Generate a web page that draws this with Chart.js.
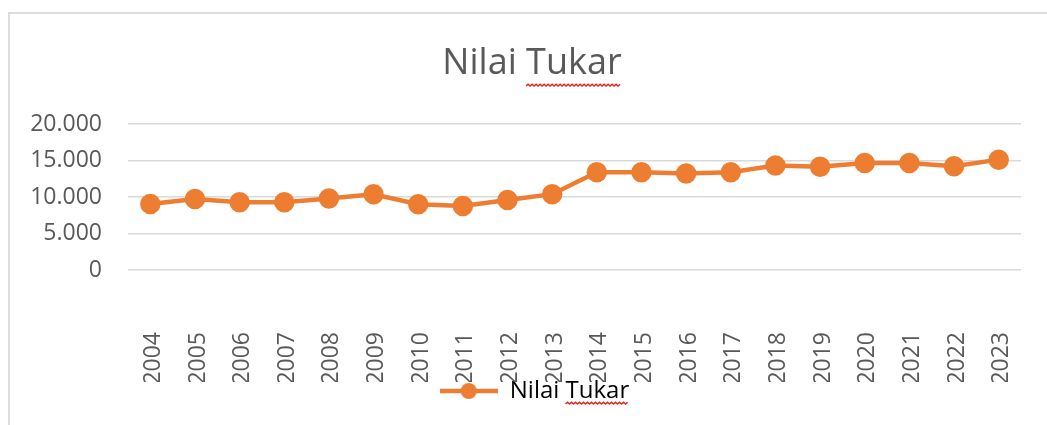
<!DOCTYPE html>
<html>
<head>
<meta charset="utf-8">
<script src="https://cdn.jsdelivr.net/npm/chart.js@4"></script>
<style>
  html, body { margin: 0; padding: 0; background: #fff; }
  #wrap { width: 1047px; height: 425px; }
</style>
</head>
<body>
<div id="wrap"><canvas id="chart" width="1047" height="425"></canvas></div>
<script>
// Data
const years = ["2004", "2005", "2006", "2007", "2008", "2009", "2010", "2011", "2012", "2013",
               "2014", "2015", "2016", "2017", "2018", "2019", "2020", "2021", "2022", "2023"];
const nilaiTukar = [9050, 9730, 9280, 9280, 9820, 10400, 9010, 8780, 9590, 10400,
                    13420, 13420, 13240, 13420, 14320, 14180, 14690, 14690, 14230, 15140];
const seriesName = "Nilai Tukar";
const chartTitle = "Nilai Tukar";

const orange = "#ED7D31";
const textGray = "#595959";
const gridGray = "#d9d9d9";
const fontFamily = "'Open Sans', sans-serif";
const titleSize = 36;
const legendSize = 24;

// Legend marker: line with a dot, like the spreadsheet legend
function legendMarker() {
    const c = document.createElement("canvas");
    c.width = 58;
    c.height = 20;
    const g = c.getContext("2d");
    g.strokeStyle = orange;
    g.lineWidth = 4.5;
    g.beginPath();
    g.moveTo(0, 10);
    g.lineTo(58, 10);
    g.stroke();
    g.fillStyle = orange;
    g.beginPath();
    g.arc(29, 10, 8, 0, Math.PI * 2);
    g.fill();
    return c;
}
const marker = legendMarker();

function thousands(v) {
    return String(v).replace(/\B(?=(\d{3})+(?!\d))/g, ".");
}

function wavy(ctx, x1, x2, y) {
    ctx.save();
    ctx.strokeStyle = "#e3241c";
    ctx.lineWidth = 1.4;
    ctx.beginPath();
    let up = true;
    ctx.moveTo(x1, y);
    for (let x = x1 + 2; x <= x2; x += 2) {
        ctx.lineTo(x, up ? y - 1.8 : y);
        up = !up;
    }
    ctx.stroke();
    ctx.restore();
}

// Frame lines, title/legend nudges and spell-check squiggles
const decorations = {
    id: "decorations",
    afterLayout(chart) {
        const t = chart.titleBlock;
        t.left += 12.5;
        t.right += 12.5;
        const lg = chart.legend;
        const dx = 15, dy = -11;
        lg.left += dx;
        lg.right += dx;
        lg.top += dy;
        lg.bottom += dy;
        lg.legendHitBoxes.forEach((h) => { h.left += dx; h.top += dy; });
    },
    beforeDraw(chart) {
        const ctx = chart.ctx;
        ctx.save();
        ctx.strokeStyle = "#dcdcdc";
        ctx.lineWidth = 2;
        ctx.beginPath();
        ctx.moveTo(9, 425);
        ctx.lineTo(9, 13);
        ctx.lineTo(1047, 13);
        ctx.stroke();
        ctx.restore();
    },
    afterDraw(chart) {
        const ctx = chart.ctx;
        const t = chart.titleBlock;
        ctx.save();
        ctx.font = titleSize + "px " + fontFamily;
        const full = ctx.measureText(chartTitle).width;
        const pre = ctx.measureText("Nilai ").width;
        const tx = (t.left + t.right) / 2 - full / 2;
        wavy(ctx, tx + pre, tx + full, 86);
        const hb = chart.legend.legendHitBoxes[0];
        ctx.font = legendSize + "px " + fontFamily;
        const start = hb.left + 58 + legendSize / 2;
        wavy(ctx, start + ctx.measureText("Nilai ").width, start + ctx.measureText(seriesName).width, 404);
        ctx.restore();
    }
};

const ctx = document.getElementById("chart");

new Chart(ctx, {
    type: "line",
    data: {
        labels: years,
        datasets: [{
            label: seriesName,
            data: nilaiTukar,
            borderColor: orange,
            backgroundColor: orange,
            pointBackgroundColor: orange,
            pointBorderColor: orange,
            borderWidth: 4.5,
            pointRadius: 8,
            pointStyle: "circle",
            lineTension: 0
        }]
    },
    options: {
        responsive: false,
        animation: false,
        layout: {
            padding: { top: 14, left: 18, right: 26, bottom: 1 }
        },
        scales: {
            x: {
                offset: true,
                grid: { display: false, drawTicks: false },
                border: { display: false },
                ticks: {
                    color: textGray,
                    font: { family: fontFamily, size: 23 },
                    minRotation: 90,
                    maxRotation: 90,
                    autoSkip: false,
                    labelOffset: 3,
                    padding: 62
                },
                afterFit: (s) => {
                    s.height = 112;
                    s.paddingLeft = 0;
                    s.paddingRight = 0;
                }
            },
            y: {
                min: 0,
                max: 20000,
                grid: { color: gridGray, lineWidth: 1.5, drawTicks: false },
                border: { display: false },
                ticks: {
                    stepSize: 5000,
                    color: textGray,
                    font: { family: fontFamily, size: 23 },
                    padding: 26,
                    callback: (v) => thousands(v)
                },
                afterFit: (s) => { s.width = 110; }
            }
        },
        plugins: {
            title: {
                display: true,
                text: chartTitle,
                color: textGray,
                font: { family: fontFamily, size: titleSize, weight: "normal" },
                padding: { top: 28, bottom: 39 }
            },
            legend: {
                display: true,
                position: "bottom",
                labels: {
                    color: textGray,
                    font: { family: fontFamily, size: legendSize },
                    usePointStyle: true,
                    pointStyle: marker,
                    pointStyleWidth: 58,
                    padding: 8,
                    generateLabels: (chart) => [{
                        text: seriesName,
                        fillStyle: orange,
                        strokeStyle: orange,
                        pointStyle: marker,
                        lineWidth: 0,
                        datasetIndex: 0
                    }]
                }
            },
            tooltip: { enabled: false }
        }
    },
    plugins: [decorations]
});
</script>
</body>
</html>
